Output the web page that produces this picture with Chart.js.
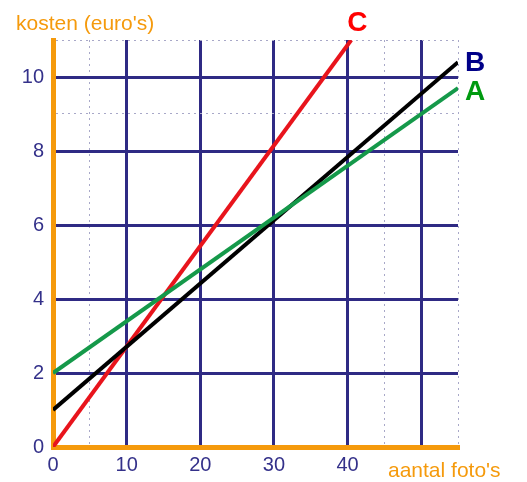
<!DOCTYPE html>
<html>
<head>
<meta charset="utf-8">
<script src="https://cdn.jsdelivr.net/npm/chart.js@4"></script>
<style>
  body { margin: 0; background: #fff; }
  #wrap { width: 527px; height: 482px; }
</style>
</head>
<body>
<div id="wrap"><canvas id="chart" width="527" height="482"></canvas></div>
<script>
// lines A, B and C: aantal foto's -> kosten
const seriesNames = ["A", "B", "C"];
const fotosA = [0, 55];
const kostenA = [2, 9.7];
const fotosB = [0, 55];
const kostenB = [1, 10.4];
const fotosC = [0, 40.5];
const kostenC = [0, 11];

const xTickLabels = [0, 10, 20, 30, 40];
const yTickLabels = [0, 2, 4, 6, 8, 10];
const xDotted = [5, 45, 55];
const yDotted = [9, 11];

const NAVY = "#2f2a84";
const ORANGE = "#f59a0c";
const DOT = "#a8a8c8";

function pts(xs, ys) {
  return xs.map((x, i) => ({ x: x, y: ys[i] }));
}

function gridColor(ctx, dotted) {
  if (!ctx.tick) return NAVY;
  const v = ctx.tick.value;
  if (v === 0) return "rgba(0,0,0,0)";
  if (dotted.includes(v)) return DOT;
  if (v % (dotted === xDotted ? 10 : 2) === 0) return NAVY;
  return "rgba(0,0,0,0)";
}

// draws the A/B/C names next to the end of each line and the axis titles
const labelsPlugin = {
  id: "labels",
  afterDatasetsDraw(chart) {
    const ctx = chart.ctx;
    ctx.save();
    chart.data.datasets.forEach((ds, i) => {
      const meta = chart.getDatasetMeta(i);
      const last = meta.data[meta.data.length - 1];
      ctx.font = "bold 28px 'Liberation Sans', Arial, sans-serif";
      ctx.fillStyle = ds.nameColor;
      ctx.textAlign = "left";
      ctx.textBaseline = "middle";
      ctx.fillText(ds.label, last.x + ds.nameDx, last.y + ds.nameDy);
    });
    ctx.font = "21px 'Liberation Sans', Arial, sans-serif";
    ctx.fillStyle = ORANGE;
    ctx.textAlign = "left";
    ctx.textBaseline = "alphabetic";
    ctx.fillText("kosten (euro's)", 16, 30);
    ctx.fillText("aantal foto's", 388, 477);
    ctx.restore();
  }
};

new Chart(document.getElementById("chart"), {
  type: "line",
  data: {
    datasets: [
      { label: seriesNames[0], data: pts(fotosA, kostenA), borderColor: "#15994a",
        nameColor: "#009a10", nameDx: 7, nameDy: 4 },
      { label: seriesNames[1], data: pts(fotosB, kostenB), borderColor: "#000000",
        nameColor: "#000088", nameDx: 7, nameDy: 1 },
      { label: seriesNames[2], data: pts(fotosC, kostenC), borderColor: "#e8141c",
        nameColor: "#ff0000", nameDx: -4, nameDy: -17 }
    ]
  },
  options: {
    responsive: false,
    animation: false,
    layout: { padding: { top: 40, right: 69, left: 0, bottom: 0 } },
    elements: {
      line: { borderWidth: 4, tension: 0 },
      point: { radius: 0 }
    },
    plugins: {
      legend: { display: false },
      tooltip: { enabled: false }
    },
    scales: {
      x: {
        type: "linear",
        min: 0,
        max: 55,
        afterFit(scale) { scale.height = 35; },
        ticks: {
          stepSize: 5,
          autoSkip: false,
          maxRotation: 0,
          padding: 6,
          color: "#34318a",
          font: { size: 20, family: "'Liberation Sans', Arial, sans-serif" },
          callback: (v) => xTickLabels.includes(v) ? String(v) : ""
        },
        grid: {
          drawTicks: false,
          color: (ctx) => gridColor(ctx, xDotted),
          lineWidth: (ctx) => ctx.tick && xDotted.includes(ctx.tick.value) ? 1 : 3
        },
        border: {
          color: ORANGE,
          width: 5,
          dash: (ctx) => ctx.tick && xDotted.includes(ctx.tick.value) ? [2, 4] : []
        }
      },
      y: {
        min: 0,
        max: 11,
        afterFit(scale) { scale.width = 53; },
        ticks: {
          stepSize: 1,
          autoSkip: false,
          padding: 9,
          color: "#34318a",
          font: { size: 20, family: "'Liberation Sans', Arial, sans-serif" },
          callback: (v) => yTickLabels.includes(v) ? String(v) : ""
        },
        grid: {
          drawTicks: false,
          color: (ctx) => gridColor(ctx, yDotted),
          lineWidth: (ctx) => ctx.tick && yDotted.includes(ctx.tick.value) ? 1 : 3
        },
        border: {
          color: ORANGE,
          width: 5,
          dash: (ctx) => ctx.tick && yDotted.includes(ctx.tick.value) ? [2, 4] : []
        }
      }
    }
  },
  plugins: [labelsPlugin]
});
</script>
</body>
</html>
